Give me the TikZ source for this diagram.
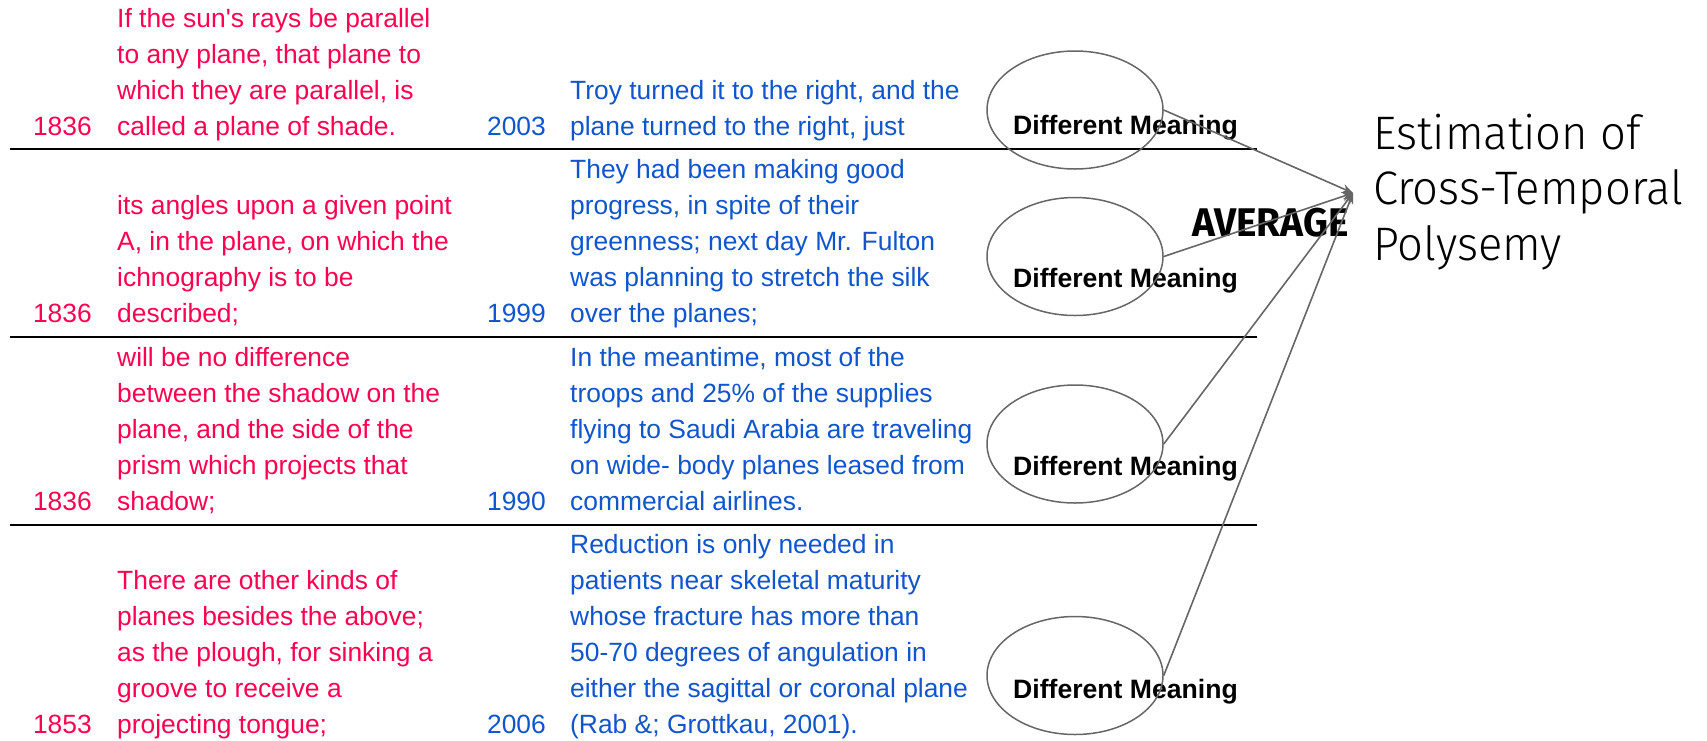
\documentclass[tikz,border=0pt]{standalone}
\usepackage{fontspec}
\setmainfont{Liberation Sans}
\newfontfamily\aposfont{Liberation Sans}
\newfontfamily\titlefont[UprightFont={* Light},FakeStretch=0.965]{Fira Sans}
\newfontfamily\avgfont[FakeStretch=0.97]{Fira Sans}
\usetikzlibrary{shapes.geometric,arrows.meta}
\definecolor{redtxt}{RGB}{255,0,80}
\definecolor{bluetxt}{RGB}{17,85,204}
\definecolor{conngray}{RGB}{102,102,102}
\newcommand{\rows}[1]{\begin{tabular}[b]{@{}l@{}}#1\end{tabular}}
\newcommand{\sq}{{\aposfont'}}
\tikzset{
  body/.style={inner sep=0pt, font=\fontsize{26.4}{36}\selectfont},
  redbody/.style={body, anchor=base west, text=redtxt},
  bluebody/.style={body, anchor=base west, text=bluetxt},
  redyear/.style={body, anchor=base east, text=redtxt},
  blueyear/.style={body, anchor=base east, text=bluetxt},
  meaning/.style={ellipse, draw=conngray, line width=1.5pt, minimum width=176pt, minimum height=118pt, inner sep=0pt},
  dmtext/.style={anchor=base west, inner sep=0pt, font=\fontsize{26.6}{30}\selectfont\bfseries},
  rowrule/.style={line width=2.2pt, black},
  conn/.style={draw=conngray, line width=1.6pt, -{Stealth[length=11pt,width=9pt]}},
}
\begin{document}
\begin{tikzpicture}[x=1pt,y=-1pt]
\useasboundingbox (0,0) rectangle (1707,740);
% rules
\draw[rowrule] (10,149) -- (1257,149);
\draw[rowrule] (10,337) -- (1257,337);
\draw[rowrule] (10,525) -- (1257,525);
% row 1
\node[redyear] (ry1) at (92,135) {1836};
\node[redbody] (rt1) at (117,135) {\rows{If the sun\sq s rays be parallel\\to any plane, that plane to\\which they are parallel, is\\called a plane of shade.}};
\node[blueyear] (by1) at (546,135) {2003};
\node[bluebody] (bt1) at (570,135) {\rows{Troy turned it to the right, and the\\plane turned to the right, just}};
% row 2
\node[redyear] (ry2) at (92,322) {1836};
\node[redbody] (rt2) at (117,322) {\rows{its angles upon a given point\\A, in the plane, on which the\\ichnography is to be\\described;}};
\node[blueyear] (by2) at (546,322) {1999};
\node[bluebody] (bt2) at (570,322) {\rows{They had been making good\\progress, in spite of their\\greenness; next day Mr. Fulton\\was planning to stretch the silk\\over the planes;}};
% row 3
\node[redyear] (ry3) at (92,510) {1836};
\node[redbody] (rt3) at (117,510) {\rows{will be no difference\\between the shadow on the\\plane, and the side of the\\prism which projects that\\shadow;}};
\node[blueyear] (by3) at (546,510) {1990};
\node[bluebody] (bt3) at (570,510) {\rows{In the meantime, most of the\\troops and 25\% of the supplies\\flying to Saudi Arabia are traveling\\on wide- body planes leased from\\commercial airlines.}};
% row 4
\node[redyear] (ry4) at (92,733) {1853};
\node[redbody] (rt4) at (117,733) {\rows{There are other kinds of\\planes besides the above;\\as the plough, for sinking a\\groove to receive a\\projecting tongue;}};
\node[blueyear] (by4) at (546,733) {2006};
\node[bluebody] (bt4) at (570,733) {\rows{Reduction is only needed in\\patients near skeletal maturity\\whose fracture has more than\\50-70 degrees of angulation in\\either the sagittal or coronal plane\\(Rab \&; Grottkau, 2001).}};
% meaning labels
\node[dmtext] (d1) at (1013,134) {Different Meaning};
\node[dmtext] (d2) at (1013,287) {Different Meaning};
\node[dmtext] (d3) at (1013,475) {Different Meaning};
\node[dmtext] (d4) at (1013,698) {Different Meaning};
% ellipses
\node[meaning] (e1) at (1075,110) {};
\node[meaning] (e2) at (1075,256.5) {};
\node[meaning] (e3) at (1075,444) {};
\node[meaning] (e4) at (1075,675.5) {};
% average + title
\node[anchor=base west, inner sep=0pt, font=\avgfont\bfseries\fontsize{40}{44}\selectfont] (avg) at (1192,236) {AVERAGE};
\node[anchor=base west, inner sep=0pt, font=\titlefont\fontsize{47}{55.5}\selectfont] (title) at (1373,260) {\rows{Estimation of\\Cross-Temporal\\Polysemy}};
% connectors
\coordinate (tip) at (1353,193);
\draw[conn] (e1.east) -- (tip);
\draw[conn] (e2.east) -- (tip);
\draw[conn] (e3.east) -- (tip);
\draw[conn] (e4.east) -- (tip);
\end{tikzpicture}
\end{document}
